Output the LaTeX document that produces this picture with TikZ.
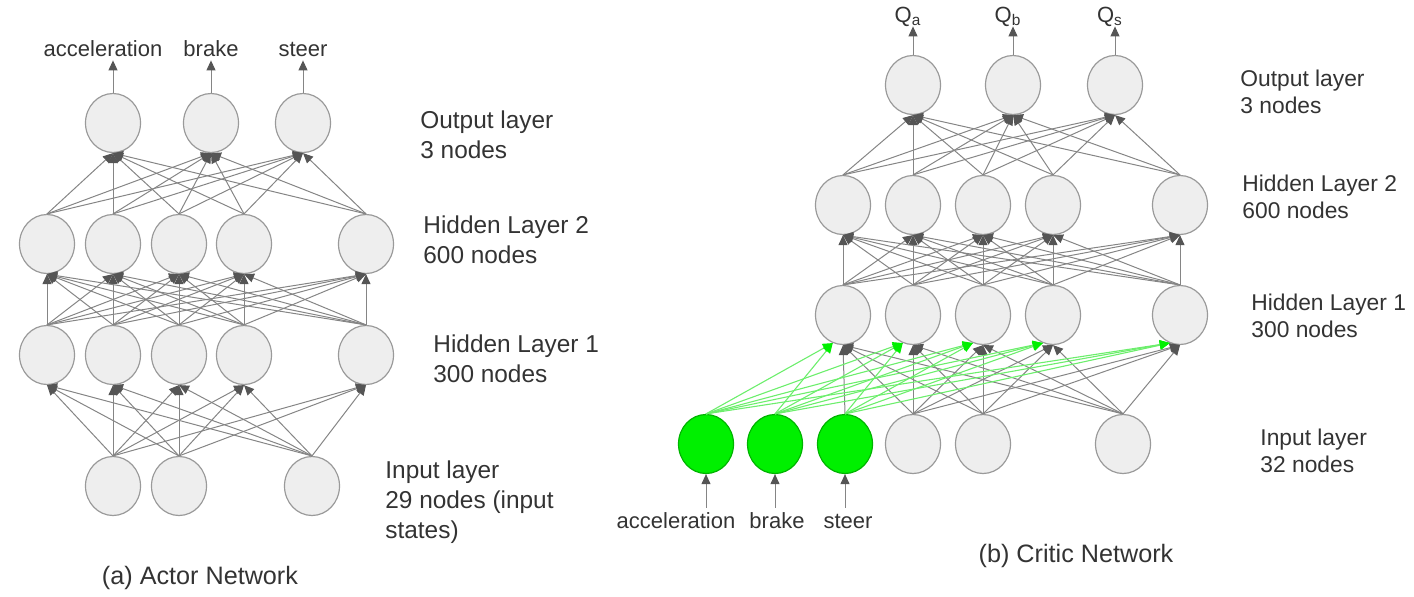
\documentclass[tikz,border=0pt]{standalone}
\usepackage{fontspec}
\setmainfont{Liberation Sans}
\usetikzlibrary{arrows.meta,shapes.geometric}

\definecolor{nodegray}{HTML}{EEEEEE}
\definecolor{rimgray}{HTML}{9A9A9A}
\definecolor{wiregray}{HTML}{858585}
\definecolor{tipgray}{HTML}{555555}
\definecolor{txtgray}{HTML}{333333}
\definecolor{inputgreen}{HTML}{00F000}
\definecolor{wiregreen}{HTML}{6CEE6C}

\begin{document}
\begin{tikzpicture}[x=0.5pt,y=-0.5pt,
    neuron/.style={ellipse,draw=rimgray,fill=nodegray,line width=0.6pt,
      minimum width=27.5pt,minimum height=29.5pt,inner sep=0pt},
    greenneuron/.style={neuron,fill=inputgreen,draw=inputgreen!75!black},
    wire/.style={draw=wiregray,line width=0.5pt,
      -{Triangle[length=5pt,width=4.5pt,color=tipgray]}},
    greenwire/.style={draw=wiregreen,line width=0.55pt,
      -{Triangle[length=5pt,width=4.5pt,color=inputgreen]}},
    actortext/.style={anchor=west,align=left,inner sep=0pt,text=txtgray,
      font=\fontsize{12.2}{15}\selectfont},
    critictext/.style={anchor=west,align=left,inner sep=0pt,text=txtgray,
      font=\fontsize{11.4}{13.6}\selectfont},
    iolabel/.style={inner sep=2pt,text=txtgray,text height=8pt,text depth=0pt,
      font=\fontsize{11}{13}\selectfont},
    caption/.style={text=txtgray,font=\fontsize{12.6}{15}\selectfont}]

\useasboundingbox (0,0) rectangle (1414,596);

% actor network
\foreach \x [count=\i] in {113,211,303}
  {\node[neuron] (a-out-\i) at (\x,123) {};}
\foreach \x [count=\i] in {47,113,179,244,366}
  {\node[neuron] (a-h2-\i) at (\x,244) {};
   \node[neuron] (a-h1-\i) at (\x,355) {};}
\foreach \x [count=\i] in {113,179,312}
  {\node[neuron] (a-in-\i) at (\x,486) {};}

\foreach \i in {1,2,3}
  \foreach \j in {1,...,5}
    {\draw[wire] (a-in-\i.north) -- (a-h1-\j.south);}
\foreach \i in {1,...,5}
  \foreach \j in {1,...,5}
    {\draw[wire] (a-h1-\i.north) -- (a-h2-\j.south);}
\foreach \i in {1,...,5}
  \foreach \j in {1,2,3}
    {\draw[wire] (a-h2-\i.north) -- (a-out-\j.south);}

\node[iolabel] (a-act-1) at (103,48) {acceleration};
\node[iolabel] (a-act-2) at (211,48) {brake};
\node[iolabel] (a-act-3) at (303,48) {steer};
\foreach \i in {1,2,3}
  {\draw[wire] (a-out-\i.north) -- (a-out-\i.north |- a-act-\i.south);}

\node[actortext] (a-outtext) at (420,135) {Output layer\\3 nodes};
\node[actortext] (a-h2text) at (423,240) {Hidden Layer 2\\600 nodes};
\node[actortext] (a-h1text) at (433,359) {Hidden Layer 1\\300 nodes};
\node[actortext] (a-intext) at (385,502) {Input layer\\29 nodes (input\\states)};
\node[caption] (a-caption) at (200,578) {(a) Actor Network};

% critic network
\foreach \x [count=\i] in {913,1013,1115}
  {\node[neuron] (c-out-\i) at (\x,85) {};}
\foreach \x [count=\i] in {843,913,983,1053,1180}
  {\node[neuron] (c-h2-\i) at (\x,205) {};
   \node[neuron] (c-h1-\i) at (\x,315) {};}
\foreach \x [count=\i] in {706,775,845}
  {\node[greenneuron] (c-in-\i) at (\x,444) {};}
\foreach \x [count=\i from 4] in {913,983,1123}
  {\node[neuron] (c-in-\i) at (\x,444) {};}

\foreach \i in {4,5,6}
  \foreach \j in {1,...,5}
    {\draw[wire] (c-in-\i.north) -- (c-h1-\j.south);}
\draw[wire] (c-in-3.north) -- (c-h1-1.south);
\foreach \i in {1,...,5}
  \foreach \j in {1,...,5}
    {\draw[wire] (c-h1-\i.north) -- (c-h2-\j.south);}
\foreach \i in {1,...,5}
  \foreach \j in {1,2,3}
    {\draw[wire] (c-h2-\i.north) -- (c-out-\j.south);}
\foreach \i in {1,2,3}
  \foreach \j in {1,...,5}
    {\ifnum\i\j=31\else
       \draw[greenwire] (c-in-\i.north) -- (c-h1-\j.250);
     \fi}

\node[iolabel] (c-q-1) at (908,14) {Q\textsubscript{a}};
\node[iolabel] (c-q-2) at (1008,14) {Q\textsubscript{b}};
\node[iolabel] (c-q-3) at (1110,14) {Q\textsubscript{s}};
\foreach \i in {1,2,3}
  {\draw[wire] (c-out-\i.north) -- (c-out-\i.north |- c-q-\i.south);}

\node[iolabel] (c-act-1) at (676,520) {acceleration};
\node[iolabel] (c-act-2) at (777,520) {brake};
\node[iolabel] (c-act-3) at (848,520) {steer};
\foreach \i in {1,2,3}
  {\draw[wire] (c-in-\i.south |- c-act-\i.north) -- (c-in-\i.south);}

\node[critictext] (c-outtext) at (1240,92) {Output layer\\3 nodes};
\node[critictext] (c-h2text) at (1242,197) {Hidden Layer 2\\600 nodes};
\node[critictext] (c-h1text) at (1251,316) {Hidden Layer 1\\300 nodes};
\node[critictext] (c-intext) at (1260,451) {Input layer\\32 nodes};
\node[caption] (c-caption) at (1076,556) {(b) Critic Network};
\end{tikzpicture}
\end{document}
